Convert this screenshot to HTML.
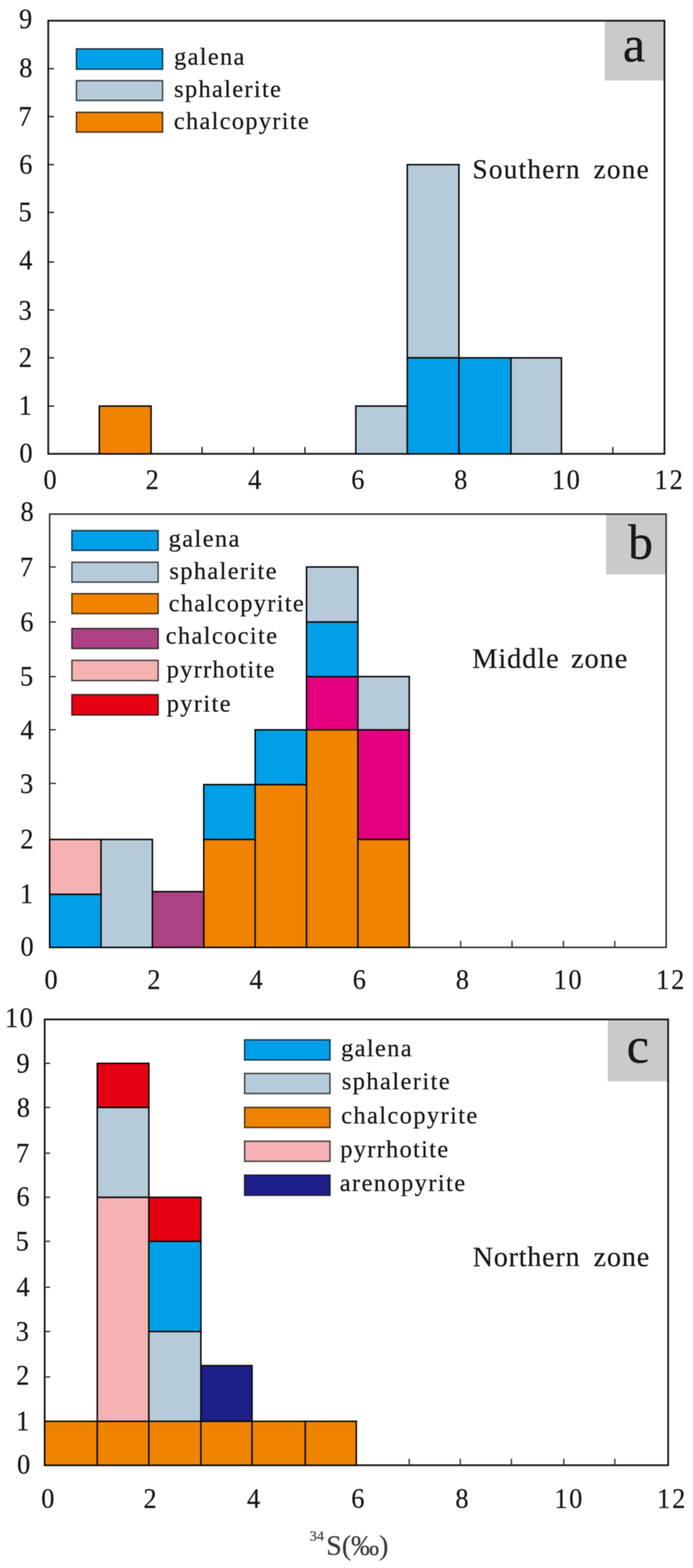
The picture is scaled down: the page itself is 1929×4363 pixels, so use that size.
<!DOCTYPE html>
<html lang="en">
<head>
<meta charset="utf-8">
<title>Sulfur isotope histograms</title>
<style>
html,body{margin:0;padding:0;background:#fff;}
body{width:1929px;height:4363px;overflow:hidden;}
svg{display:block;font-family:"Liberation Serif","DejaVu Serif",serif;}
</style>
</head>
<body>
<svg width="1929" height="4363" viewBox="0 0 1929 4363">
<defs><filter id="soft" x="0" y="0" width="1929" height="4363" filterUnits="userSpaceOnUse" color-interpolation-filters="sRGB"><feGaussianBlur stdDeviation="1"/></filter></defs>
<rect x="0" y="0" width="1929" height="4363" fill="#ffffff"/>
<g filter="url(#soft)">
<rect x="0" y="0" width="1929" height="4363" fill="#ffffff"/>
<rect x="1683" y="57.6" width="166.6" height="166.4" fill="#c9caca"/>
<rect x="134.3" y="57.6" width="1715.3" height="1205.2" fill="none" stroke="#1f1b1a" stroke-width="5"/>
<line x1="276.5" y1="1262.8" x2="276.5" y2="1243.8" stroke="#262322" stroke-width="3.8"/>
<line x1="420.5" y1="1262.8" x2="420.5" y2="1243.8" stroke="#262322" stroke-width="3.8"/>
<line x1="562.5" y1="1262.8" x2="562.5" y2="1243.8" stroke="#262322" stroke-width="3.8"/>
<line x1="705.7" y1="1262.8" x2="705.7" y2="1243.8" stroke="#262322" stroke-width="3.8"/>
<line x1="848.8" y1="1262.8" x2="848.8" y2="1243.8" stroke="#262322" stroke-width="3.8"/>
<line x1="990.4" y1="1262.8" x2="990.4" y2="1243.8" stroke="#262322" stroke-width="3.8"/>
<line x1="1133.7" y1="1262.8" x2="1133.7" y2="1243.8" stroke="#262322" stroke-width="3.8"/>
<line x1="1277.5" y1="1262.8" x2="1277.5" y2="1243.8" stroke="#262322" stroke-width="3.8"/>
<line x1="1422.3" y1="1262.8" x2="1422.3" y2="1243.8" stroke="#262322" stroke-width="3.8"/>
<line x1="1562.8" y1="1262.8" x2="1562.8" y2="1243.8" stroke="#262322" stroke-width="3.8"/>
<line x1="1705.8" y1="1262.8" x2="1705.8" y2="1243.8" stroke="#262322" stroke-width="3.8"/>
<line x1="134.3" y1="1129.9" x2="150.3" y2="1129.9" stroke="#262322" stroke-width="3.8"/>
<line x1="134.3" y1="995.7" x2="150.3" y2="995.7" stroke="#262322" stroke-width="3.8"/>
<line x1="134.3" y1="862.5" x2="150.3" y2="862.5" stroke="#262322" stroke-width="3.8"/>
<line x1="134.3" y1="729.2" x2="150.3" y2="729.2" stroke="#262322" stroke-width="3.8"/>
<line x1="134.3" y1="591.1" x2="150.3" y2="591.1" stroke="#262322" stroke-width="3.8"/>
<line x1="134.3" y1="458.2" x2="150.3" y2="458.2" stroke="#262322" stroke-width="3.8"/>
<line x1="134.3" y1="324.4" x2="150.3" y2="324.4" stroke="#262322" stroke-width="3.8"/>
<line x1="134.3" y1="191.2" x2="150.3" y2="191.2" stroke="#262322" stroke-width="3.8"/>
<rect x="276.5" y="1129.9" width="144" height="132.9" fill="#f08300" stroke="#0d0b0b" stroke-width="4.2"/>
<rect x="990.4" y="1129.9" width="143.3" height="132.9" fill="#b5cbd9" stroke="#0d0b0b" stroke-width="4.2"/>
<rect x="1133.7" y="458.2" width="143.8" height="537.5" fill="#b5cbd9" stroke="#0d0b0b" stroke-width="4.2"/>
<rect x="1133.7" y="995.7" width="143.8" height="267.1" fill="#00a0e9" stroke="#0d0b0b" stroke-width="4.2"/>
<rect x="1277.5" y="995.7" width="144.8" height="267.1" fill="#00a0e9" stroke="#0d0b0b" stroke-width="4.2"/>
<rect x="1422.3" y="995.7" width="140.5" height="267.1" fill="#b5cbd9" stroke="#0d0b0b" stroke-width="4.2"/>
<text transform="translate(52.96 77.87) scale(0.93 1)" font-size="79" fill="#1a1716" stroke="#1a1716" stroke-width="0.6">9</text>
<text transform="translate(53.53 214.07) scale(0.93 1)" font-size="79" fill="#1a1716" stroke="#1a1716" stroke-width="0.6">8</text>
<text transform="translate(51.27 348.87) scale(0.93 1)" font-size="79" fill="#1a1716" stroke="#1a1716" stroke-width="0.6">7</text>
<text transform="translate(53.45 482.97) scale(0.93 1)" font-size="79" fill="#1a1716" stroke="#1a1716" stroke-width="0.6">6</text>
<text transform="translate(51.43 615.27) scale(0.93 1)" font-size="79" fill="#1a1716" stroke="#1a1716" stroke-width="0.6">5</text>
<text transform="translate(53.39 748.87) scale(0.93 1)" font-size="79" fill="#1a1716" stroke="#1a1716" stroke-width="0.6">4</text>
<text transform="translate(51.81 888.97) scale(0.93 1)" font-size="79" fill="#1a1716" stroke="#1a1716" stroke-width="0.6">3</text>
<text transform="translate(52.25 1020.47) scale(0.93 1)" font-size="79" fill="#1a1716" stroke="#1a1716" stroke-width="0.6">2</text>
<text transform="translate(52.11 1153.47) scale(0.93 1)" font-size="79" fill="#1a1716" stroke="#1a1716" stroke-width="0.6">1</text>
<text transform="translate(53.93 1286.47) scale(0.93 1)" font-size="79" fill="#1a1716" stroke="#1a1716" stroke-width="0.6">0</text>
<text transform="translate(120.93 1360.47) scale(0.93 1)" font-size="79" fill="#1a1716" stroke="#1a1716" stroke-width="0.6">0</text>
<text transform="translate(405.35 1360.47) scale(0.93 1)" font-size="79" fill="#1a1716" stroke="#1a1716" stroke-width="0.6">2</text>
<text transform="translate(690.49 1360.47) scale(0.93 1)" font-size="79" fill="#1a1716" stroke="#1a1716" stroke-width="0.6">4</text>
<text transform="translate(977.75 1360.47) scale(0.93 1)" font-size="79" fill="#1a1716" stroke="#1a1716" stroke-width="0.6">6</text>
<text transform="translate(1264.03 1360.47) scale(0.93 1)" font-size="79" fill="#1a1716" stroke="#1a1716" stroke-width="0.6">8</text>
<text transform="translate(1536.34 1360.47) scale(0.93 1)" font-size="79" letter-spacing="4.5" fill="#1a1716" stroke="#1a1716" stroke-width="0.6">10</text>
<text transform="translate(1821.84 1360.47) scale(0.93 1)" font-size="79" letter-spacing="5.85" fill="#1a1716" stroke="#1a1716" stroke-width="0.6">12</text>
<rect x="212.8" y="136" width="239.7" height="56.5" fill="#00a0e9" stroke="#1b3b4a" stroke-width="4.0"/>
<text transform="translate(484.48 179.9)" font-size="68" letter-spacing="3.66" fill="#1a1716" stroke="#1a1716" stroke-width="0.6">galena</text>
<rect x="212.8" y="224.5" width="239.7" height="55" fill="#b5cbd9" stroke="#3f4447" stroke-width="4.0"/>
<text transform="translate(484.61 269.6)" font-size="68" letter-spacing="3.67" fill="#1a1716" stroke="#1a1716" stroke-width="0.6">sphalerite</text>
<rect x="212.8" y="312.7" width="239.7" height="54.8" fill="#f08300" stroke="#4b351b" stroke-width="4.0"/>
<text transform="translate(483.91 358.8)" font-size="68" letter-spacing="3.58" fill="#1a1716" stroke="#1a1716" stroke-width="0.6">chalcopyrite</text>
<text y="495.5" font-size="76" fill="#1a1716" stroke="#1a1716" stroke-width="0.6"><tspan x="1315.02" letter-spacing="3.39">Southern</tspan> <tspan x="1652.26" letter-spacing="3.3">zone</tspan></text>
<text x="1733.96" y="170.6" font-size="139" fill="#1a1716" stroke="#1a1716" stroke-width="1">a</text>
<rect x="1687" y="1430.5" width="167.3" height="168.1" fill="#c9caca"/>
<rect x="138.2" y="1430.5" width="1716.1" height="1205.6" fill="none" stroke="#2e2c2c" stroke-width="4.2"/>
<line x1="281.21" y1="2636.1" x2="281.21" y2="2617.6" stroke="#2e2c2c" stroke-width="3.6"/>
<line x1="424.22" y1="2636.1" x2="424.22" y2="2617.6" stroke="#2e2c2c" stroke-width="3.6"/>
<line x1="567.22" y1="2636.1" x2="567.22" y2="2617.6" stroke="#2e2c2c" stroke-width="3.6"/>
<line x1="710.23" y1="2636.1" x2="710.23" y2="2617.6" stroke="#2e2c2c" stroke-width="3.6"/>
<line x1="853.24" y1="2636.1" x2="853.24" y2="2617.6" stroke="#2e2c2c" stroke-width="3.6"/>
<line x1="996.25" y1="2636.1" x2="996.25" y2="2617.6" stroke="#2e2c2c" stroke-width="3.6"/>
<line x1="1139.26" y1="2636.1" x2="1139.26" y2="2617.6" stroke="#2e2c2c" stroke-width="3.6"/>
<line x1="1282.27" y1="2636.1" x2="1282.27" y2="2617.6" stroke="#2e2c2c" stroke-width="3.6"/>
<line x1="1425.28" y1="2636.1" x2="1425.28" y2="2617.6" stroke="#2e2c2c" stroke-width="3.6"/>
<line x1="1568.28" y1="2636.1" x2="1568.28" y2="2617.6" stroke="#2e2c2c" stroke-width="3.6"/>
<line x1="1711.29" y1="2636.1" x2="1711.29" y2="2617.6" stroke="#2e2c2c" stroke-width="3.6"/>
<line x1="138.2" y1="2488.6" x2="155.7" y2="2488.6" stroke="#2e2c2c" stroke-width="3.6"/>
<line x1="138.2" y1="2335.8" x2="155.7" y2="2335.8" stroke="#2e2c2c" stroke-width="3.6"/>
<line x1="138.2" y1="2179.8" x2="155.7" y2="2179.8" stroke="#2e2c2c" stroke-width="3.6"/>
<line x1="138.2" y1="2030.6" x2="155.7" y2="2030.6" stroke="#2e2c2c" stroke-width="3.6"/>
<line x1="138.2" y1="1882.7" x2="155.7" y2="1882.7" stroke="#2e2c2c" stroke-width="3.6"/>
<line x1="138.2" y1="1730.6" x2="155.7" y2="1730.6" stroke="#2e2c2c" stroke-width="3.6"/>
<line x1="138.2" y1="1577.6" x2="155.7" y2="1577.6" stroke="#2e2c2c" stroke-width="3.6"/>
<rect x="138.2" y="2335.8" width="143.01" height="152.8" fill="#f5b2b2" stroke="#0d0b0b" stroke-width="4.2"/>
<rect x="138.2" y="2488.6" width="143.01" height="147.5" fill="#00a0e9" stroke="#0d0b0b" stroke-width="4.2"/>
<rect x="281.21" y="2335.8" width="143.01" height="300.3" fill="#b5cbd9" stroke="#0d0b0b" stroke-width="4.2"/>
<rect x="424.22" y="2480.96" width="143.01" height="155.14" fill="#ab4283" stroke="#0d0b0b" stroke-width="4.2"/>
<rect x="567.22" y="2335.8" width="143.01" height="300.3" fill="#f08300" stroke="#0d0b0b" stroke-width="4.2"/>
<rect x="567.22" y="2183.2" width="143.01" height="152.6" fill="#00a0e9" stroke="#0d0b0b" stroke-width="4.2"/>
<rect x="710.23" y="2183.2" width="143.01" height="452.9" fill="#f08300" stroke="#0d0b0b" stroke-width="4.2"/>
<rect x="710.23" y="2030.8" width="143.01" height="152.4" fill="#00a0e9" stroke="#0d0b0b" stroke-width="4.2"/>
<rect x="853.24" y="2030.8" width="143.01" height="605.3" fill="#f08300" stroke="#0d0b0b" stroke-width="4.2"/>
<rect x="853.24" y="1882.7" width="143.01" height="148.1" fill="#e4007f" stroke="#0d0b0b" stroke-width="4.2"/>
<rect x="853.24" y="1730.6" width="143.01" height="152.1" fill="#00a0e9" stroke="#0d0b0b" stroke-width="4.2"/>
<rect x="853.24" y="1577.6" width="143.01" height="153" fill="#b5cbd9" stroke="#0d0b0b" stroke-width="4.2"/>
<rect x="996.25" y="2335.8" width="143.01" height="300.3" fill="#f08300" stroke="#0d0b0b" stroke-width="4.2"/>
<rect x="996.25" y="2030.8" width="143.01" height="305" fill="#e4007f" stroke="#0d0b0b" stroke-width="4.2"/>
<rect x="996.25" y="1882.7" width="143.01" height="148.1" fill="#b5cbd9" stroke="#0d0b0b" stroke-width="4.2"/>
<text transform="translate(57.03 1449.07) scale(0.93 1)" font-size="79" fill="#1a1716" stroke="#1a1716" stroke-width="0.6">8</text>
<text transform="translate(55.27 1602.77) scale(0.93 1)" font-size="79" fill="#1a1716" stroke="#1a1716" stroke-width="0.6">7</text>
<text transform="translate(56.55 1755.57) scale(0.93 1)" font-size="79" fill="#1a1716" stroke="#1a1716" stroke-width="0.6">6</text>
<text transform="translate(55.43 1907.47) scale(0.93 1)" font-size="79" fill="#1a1716" stroke="#1a1716" stroke-width="0.6">5</text>
<text transform="translate(56.89 2055.87) scale(0.93 1)" font-size="79" fill="#1a1716" stroke="#1a1716" stroke-width="0.6">4</text>
<text transform="translate(55.81 2206.47) scale(0.93 1)" font-size="79" fill="#1a1716" stroke="#1a1716" stroke-width="0.6">3</text>
<text transform="translate(56.55 2360.07) scale(0.93 1)" font-size="79" fill="#1a1716" stroke="#1a1716" stroke-width="0.6">2</text>
<text transform="translate(55.61 2512.47) scale(0.93 1)" font-size="79" fill="#1a1716" stroke="#1a1716" stroke-width="0.6">1</text>
<text transform="translate(57.03 2659.47) scale(0.93 1)" font-size="79" fill="#1a1716" stroke="#1a1716" stroke-width="0.6">0</text>
<text transform="translate(123.73 2751.07) scale(0.93 1)" font-size="79" fill="#1a1716" stroke="#1a1716" stroke-width="0.6">0</text>
<text transform="translate(409.95 2751.07) scale(0.93 1)" font-size="79" fill="#1a1716" stroke="#1a1716" stroke-width="0.6">2</text>
<text transform="translate(694.49 2751.07) scale(0.93 1)" font-size="79" fill="#1a1716" stroke="#1a1716" stroke-width="0.6">4</text>
<text transform="translate(981.75 2751.07) scale(0.93 1)" font-size="79" fill="#1a1716" stroke="#1a1716" stroke-width="0.6">6</text>
<text transform="translate(1268.63 2751.07) scale(0.93 1)" font-size="79" fill="#1a1716" stroke="#1a1716" stroke-width="0.6">8</text>
<text transform="translate(1541.34 2751.07) scale(0.93 1)" font-size="79" letter-spacing="4.5" fill="#1a1716" stroke="#1a1716" stroke-width="0.6">10</text>
<text transform="translate(1826.14 2751.07) scale(0.93 1)" font-size="79" letter-spacing="5.85" fill="#1a1716" stroke="#1a1716" stroke-width="0.6">12</text>
<rect x="200.2" y="1476.5" width="240" height="54.8" fill="#00a0e9" stroke="#1b3b4a" stroke-width="4.0"/>
<text transform="translate(469.38 1520.8)" font-size="68" letter-spacing="3.9" fill="#1a1716" stroke="#1a1716" stroke-width="0.6">galena</text>
<rect x="200.2" y="1564.5" width="240" height="55.3" fill="#b5cbd9" stroke="#3f4447" stroke-width="4.0"/>
<text transform="translate(471.61 1610.7)" font-size="68" letter-spacing="3.75" fill="#1a1716" stroke="#1a1716" stroke-width="0.6">sphalerite</text>
<rect x="200.2" y="1652" width="240" height="55.3" fill="#f08300" stroke="#4b351b" stroke-width="4.0"/>
<text transform="translate(469.41 1700.6)" font-size="68" letter-spacing="3.63" fill="#1a1716" stroke="#1a1716" stroke-width="0.6">chalcopyrite</text>
<rect x="200.2" y="1749" width="240" height="55.3" fill="#ab4283" stroke="#3d2835" stroke-width="4.0"/>
<text transform="translate(461.21 1791.2)" font-size="68" letter-spacing="3.81" fill="#1a1716" stroke="#1a1716" stroke-width="0.6">chalcocite</text>
<rect x="200.2" y="1837.5" width="240" height="56.3" fill="#f5b2b2" stroke="#4c3f3f" stroke-width="4.0"/>
<text transform="translate(463.9 1884.6)" font-size="68" letter-spacing="3.54" fill="#1a1716" stroke="#1a1716" stroke-width="0.6">pyrrhotite</text>
<rect x="200.2" y="1933" width="240" height="56.3" fill="#e60012" stroke="#491b1f" stroke-width="4.0"/>
<text transform="translate(463.9 1979.5)" font-size="68" letter-spacing="3.85" fill="#1a1716" stroke="#1a1716" stroke-width="0.6">pyrite</text>
<text y="1857.6" font-size="79" fill="#1a1716" stroke="#1a1716" stroke-width="0.6"><tspan x="1314.42" letter-spacing="2.5">Middle</tspan> <tspan x="1589.48" letter-spacing="2.51">zone</tspan></text>
<text x="1748.53" y="1555.1" font-size="138" fill="#1a1716" stroke="#1a1716" stroke-width="1">b</text>
<rect x="1692" y="2836.6" width="167.8" height="172.4" fill="#c9caca"/>
<rect x="124.4" y="2836.6" width="1735.4" height="1240.4" fill="none" stroke="#1f1b1a" stroke-width="5"/>
<line x1="270.8" y1="4077" x2="270.8" y2="4059" stroke="#2e2c2c" stroke-width="3.6"/>
<line x1="414.4" y1="4077" x2="414.4" y2="4059" stroke="#2e2c2c" stroke-width="3.6"/>
<line x1="559.2" y1="4077" x2="559.2" y2="4059" stroke="#2e2c2c" stroke-width="3.6"/>
<line x1="701.5" y1="4077" x2="701.5" y2="4059" stroke="#2e2c2c" stroke-width="3.6"/>
<line x1="849.8" y1="4077" x2="849.8" y2="4059" stroke="#2e2c2c" stroke-width="3.6"/>
<line x1="991.7" y1="4077" x2="991.7" y2="4059" stroke="#2e2c2c" stroke-width="3.6"/>
<line x1="1139" y1="4077" x2="1139" y2="4059" stroke="#2e2c2c" stroke-width="3.6"/>
<line x1="1281.2" y1="4077" x2="1281.2" y2="4059" stroke="#2e2c2c" stroke-width="3.6"/>
<line x1="1423.5" y1="4077" x2="1423.5" y2="4059" stroke="#2e2c2c" stroke-width="3.6"/>
<line x1="1569.5" y1="4077" x2="1569.5" y2="4059" stroke="#2e2c2c" stroke-width="3.6"/>
<line x1="1711.4" y1="4077" x2="1711.4" y2="4059" stroke="#2e2c2c" stroke-width="3.6"/>
<line x1="124.4" y1="3954.8" x2="139.4" y2="3954.8" stroke="#2e2c2c" stroke-width="3.6"/>
<line x1="124.4" y1="3831.5" x2="139.4" y2="3831.5" stroke="#2e2c2c" stroke-width="3.6"/>
<line x1="124.4" y1="3705" x2="139.4" y2="3705" stroke="#2e2c2c" stroke-width="3.6"/>
<line x1="124.4" y1="3581.6" x2="139.4" y2="3581.6" stroke="#2e2c2c" stroke-width="3.6"/>
<line x1="124.4" y1="3454" x2="139.4" y2="3454" stroke="#2e2c2c" stroke-width="3.6"/>
<line x1="124.4" y1="3331.5" x2="139.4" y2="3331.5" stroke="#2e2c2c" stroke-width="3.6"/>
<line x1="124.4" y1="3208.7" x2="139.4" y2="3208.7" stroke="#2e2c2c" stroke-width="3.6"/>
<line x1="124.4" y1="3081.3" x2="139.4" y2="3081.3" stroke="#2e2c2c" stroke-width="3.6"/>
<line x1="124.4" y1="2958.8" x2="139.4" y2="2958.8" stroke="#2e2c2c" stroke-width="3.6"/>
<rect x="124.4" y="3954.8" width="146.4" height="122.2" fill="#f08300" stroke="#0d0b0b" stroke-width="4.2"/>
<rect x="270.8" y="3954.8" width="143.6" height="122.2" fill="#f08300" stroke="#0d0b0b" stroke-width="4.2"/>
<rect x="414.4" y="3954.8" width="144.8" height="122.2" fill="#f08300" stroke="#0d0b0b" stroke-width="4.2"/>
<rect x="559.2" y="3954.8" width="142.3" height="122.2" fill="#f08300" stroke="#0d0b0b" stroke-width="4.2"/>
<rect x="701.5" y="3954.8" width="148.3" height="122.2" fill="#f08300" stroke="#0d0b0b" stroke-width="4.2"/>
<rect x="849.8" y="3954.8" width="141.9" height="122.2" fill="#f08300" stroke="#0d0b0b" stroke-width="4.2"/>
<rect x="270.8" y="3331.5" width="143.6" height="623.3" fill="#f5b2b2" stroke="#0d0b0b" stroke-width="4.2"/>
<rect x="270.8" y="3081.3" width="143.6" height="250.2" fill="#b5cbd9" stroke="#0d0b0b" stroke-width="4.2"/>
<rect x="270.8" y="2958.8" width="143.6" height="122.5" fill="#e60012" stroke="#0d0b0b" stroke-width="4.2"/>
<rect x="414.4" y="3705" width="144.8" height="249.8" fill="#b5cbd9" stroke="#0d0b0b" stroke-width="4.2"/>
<rect x="414.4" y="3454" width="144.8" height="251" fill="#00a0e9" stroke="#0d0b0b" stroke-width="4.2"/>
<rect x="414.4" y="3331.5" width="144.8" height="122.5" fill="#e60012" stroke="#0d0b0b" stroke-width="4.2"/>
<rect x="559.2" y="3799.88" width="142.3" height="154.93" fill="#1d2088" stroke="#0d0b0b" stroke-width="4.2"/>
<text transform="translate(13.84 2857.47) scale(0.93 1)" font-size="79" letter-spacing="4.5" fill="#1a1716" stroke="#1a1716" stroke-width="0.6">10</text>
<text transform="translate(45.66 2983.97) scale(0.93 1)" font-size="79" fill="#1a1716" stroke="#1a1716" stroke-width="0.6">9</text>
<text transform="translate(46.63 3107.07) scale(0.93 1)" font-size="79" fill="#1a1716" stroke="#1a1716" stroke-width="0.6">8</text>
<text transform="translate(44.47 3234.17) scale(0.93 1)" font-size="79" fill="#1a1716" stroke="#1a1716" stroke-width="0.6">7</text>
<text transform="translate(45.75 3354.77) scale(0.93 1)" font-size="79" fill="#1a1716" stroke="#1a1716" stroke-width="0.6">6</text>
<text transform="translate(43.43 3478.77) scale(0.93 1)" font-size="79" fill="#1a1716" stroke="#1a1716" stroke-width="0.6">5</text>
<text transform="translate(45.69 3605.77) scale(0.93 1)" font-size="79" fill="#1a1716" stroke="#1a1716" stroke-width="0.6">4</text>
<text transform="translate(43.81 3729.67) scale(0.93 1)" font-size="79" fill="#1a1716" stroke="#1a1716" stroke-width="0.6">3</text>
<text transform="translate(45.05 3851.87) scale(0.93 1)" font-size="79" fill="#1a1716" stroke="#1a1716" stroke-width="0.6">2</text>
<text transform="translate(44.81 3979.47) scale(0.93 1)" font-size="79" fill="#1a1716" stroke="#1a1716" stroke-width="0.6">1</text>
<text transform="translate(47.53 4099.77) scale(0.93 1)" font-size="79" fill="#1a1716" stroke="#1a1716" stroke-width="0.6">0</text>
<text transform="translate(114.73 4195.47) scale(0.93 1)" font-size="79" fill="#1a1716" stroke="#1a1716" stroke-width="0.6">0</text>
<text transform="translate(399.15 4195.47) scale(0.93 1)" font-size="79" fill="#1a1716" stroke="#1a1716" stroke-width="0.6">2</text>
<text transform="translate(687.49 4195.47) scale(0.93 1)" font-size="79" fill="#1a1716" stroke="#1a1716" stroke-width="0.6">4</text>
<text transform="translate(977.75 4195.47) scale(0.93 1)" font-size="79" fill="#1a1716" stroke="#1a1716" stroke-width="0.6">6</text>
<text transform="translate(1267.43 4195.47) scale(0.93 1)" font-size="79" fill="#1a1716" stroke="#1a1716" stroke-width="0.6">8</text>
<text transform="translate(1543.34 4195.47) scale(0.93 1)" font-size="79" letter-spacing="4.5" fill="#1a1716" stroke="#1a1716" stroke-width="0.6">10</text>
<text transform="translate(1828.94 4195.47) scale(0.93 1)" font-size="79" letter-spacing="5.85" fill="#1a1716" stroke="#1a1716" stroke-width="0.6">12</text>
<rect x="681" y="2893.5" width="237.5" height="55.8" fill="#00a0e9" stroke="#1b3b4a" stroke-width="4.0"/>
<text transform="translate(949.48 2938.7)" font-size="68" letter-spacing="3.76" fill="#1a1716" stroke="#1a1716" stroke-width="0.6">galena</text>
<rect x="681" y="2987" width="237.5" height="55.8" fill="#b5cbd9" stroke="#3f4447" stroke-width="4.0"/>
<text transform="translate(951.41 3030.9)" font-size="68" letter-spacing="3.99" fill="#1a1716" stroke="#1a1716" stroke-width="0.6">sphalerite</text>
<rect x="681" y="3081.5" width="237.5" height="55.8" fill="#f08300" stroke="#4b351b" stroke-width="4.0"/>
<text transform="translate(949.81 3125.5)" font-size="68" letter-spacing="3.87" fill="#1a1716" stroke="#1a1716" stroke-width="0.6">chalcopyrite</text>
<rect x="681" y="3175.5" width="237.5" height="55.8" fill="#f5b2b2" stroke="#4c3f3f" stroke-width="4.0"/>
<text transform="translate(947 3219.6)" font-size="68" letter-spacing="3.58" fill="#1a1716" stroke="#1a1716" stroke-width="0.6">pyrrhotite</text>
<rect x="681" y="3270" width="237.5" height="55.8" fill="#1d2088" stroke="#212236" stroke-width="4.0"/>
<text transform="translate(945.71 3313.6)" font-size="68" letter-spacing="3.93" fill="#1a1716" stroke="#1a1716" stroke-width="0.6">arenopyrite</text>
<text y="3523" font-size="78" fill="#1a1716" stroke="#1a1716" stroke-width="0.6"><tspan x="1315.95" letter-spacing="2.24">Northern</tspan> <tspan x="1652.21" letter-spacing="2.59">zone</tspan></text>
<text x="1744.44" y="2956.7" font-size="139" fill="#1a1716" stroke="#1a1716" stroke-width="1">c</text>
<text x="862" y="4326" font-size="78" fill="#3e3a39" stroke="#3e3a39" stroke-width="0.5"><tspan font-size="40" dy="-39">34</tspan><tspan dy="39" dx="6">S(‰)</tspan></text>
</g>
</svg>
</body>
</html>
